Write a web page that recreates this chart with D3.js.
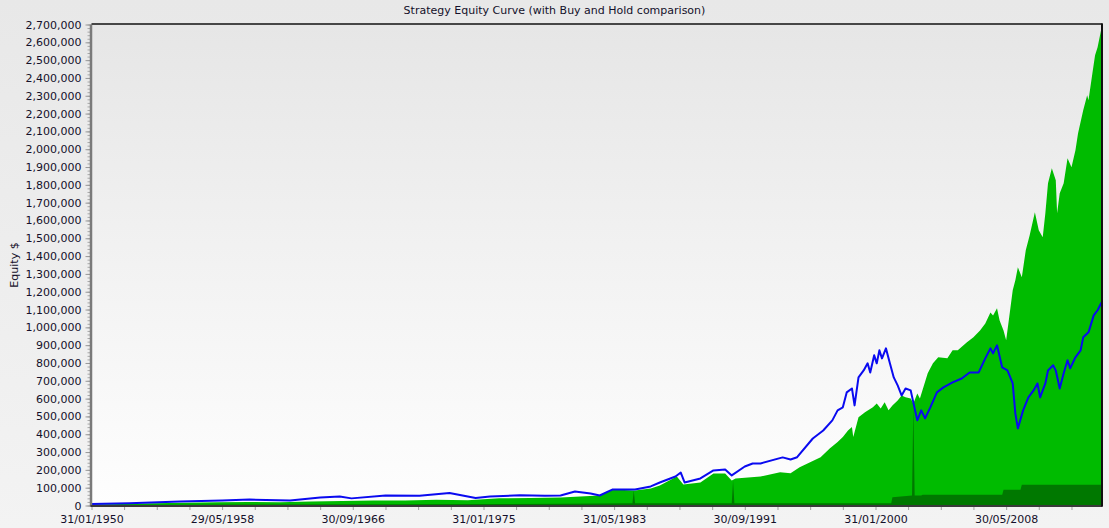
<!DOCTYPE html>
<html>
<head>
<meta charset="utf-8">
<script src="https://cdn.jsdelivr.net/npm/d3@7"></script>
<style>
  body { margin: 0; background: #ececec; }
  svg { display: block; font-family: "DejaVu Sans", sans-serif; }
</style>
</head>
<body>
<svg width="1109" height="528"></svg>
<script>
// Buy and hold (blue line), month -> equity $
const holdDates = ["1950-01","1952-06","1955-09","1958-05","1960-02","1962-09","1964-08","1965-11","1966-08","1968-10",
  "1970-12","1972-11","1974-07","1975-06","1977-05","1978-12","1979-12","1980-11","1981-11","1982-06",
  "1983-04","1984-09","1985-09","1986-04","1987-04","1987-08","1987-11","1988-11","1989-09","1990-06",
  "1990-11","1991-09","1992-03","1992-09","1994-02","1994-08","1995-01","1996-01","1996-09","1997-04",
  "1997-08","1997-12","1998-03","1998-07","1998-09","1998-12","1999-04","1999-07","1999-09","1999-12",
  "2000-02","2000-04","2000-06","2000-09","2000-12","2001-03","2001-06","2001-09","2001-12","2002-04",
  "2002-06","2002-09","2002-12","2003-03","2003-07","2003-12","2004-05","2004-12","2005-07","2006-01",
  "2006-08","2007-01","2007-05","2007-07","2007-10","2008-02","2008-06","2008-10","2008-12","2009-02",
  "2009-06","2009-10","2010-02","2010-05","2010-07","2010-11","2011-01","2011-05","2011-07","2011-10",
  "2012-01","2012-04","2012-06","2012-10","2013-02","2013-04","2013-08","2013-12","2014-03","2014-06"];
const holdValues = [8000,12000,22000,28000,33000,28000,45000,50000,40000,56000,
  55000,70000,42000,50000,58000,55000,56000,79000,67000,56000,
  90000,90000,107000,129000,163000,185000,129000,152000,197000,202000,
  169000,219000,236000,236000,270000,258000,271000,376000,421000,478000,
  534000,551000,635000,657000,562000,719000,758000,798000,747000,843000,
  798000,871000,826000,882000,798000,719000,674000,618000,657000,646000,
  579000,478000,534000,489000,551000,635000,663000,691000,713000,747000,
  747000,826000,882000,854000,899000,775000,758000,685000,517000,433000,
  534000,607000,646000,685000,607000,685000,758000,787000,758000,657000,
  742000,815000,770000,832000,871000,944000,972000,1067000,1096000,1140000];

// Strategy equity (light green area)
const strategyDates = ["1950-01","1952-01","1954-01","1956-01","1958-01","1960-01","1962-01","1964-01","1966-01","1968-01",
  "1970-01","1972-01","1974-01","1976-01","1978-01","1979-12","1982-06","1983-01","1983-04","1984-09",
  "1985-09","1986-04","1987-05","1987-10","1988-11","1989-09","1990-06","1990-11","1991-02","1992-09",
  "1993-12","1994-08","1995-03","1995-11","1996-07","1997-02","1997-08","1997-12","1998-04","1998-07",
  "1998-08","1998-12","1999-05","1999-11","2000-02","2000-05","2000-08","2000-11","2001-02","2001-06",
  "2001-09","2001-12","2002-04","2002-06","2002-09","2002-11","2003-05","2003-09","2004-01","2004-08",
  "2004-12","2005-04","2005-11","2006-04","2006-09","2007-01","2007-05","2007-07","2007-10","2007-12",
  "2008-03","2008-05","2008-07","2008-10","2008-12","2009-02","2009-05","2009-08","2009-11","2010-03",
  "2010-06","2010-09","2010-11","2011-01","2011-04","2011-07","2011-08","2011-10","2012-01","2012-04",
  "2012-07","2012-10","2012-12","2013-04","2013-07","2013-08","2013-11","2014-01","2014-03","2014-06"];
const strategyValues = [5000,8000,12000,15000,18000,20000,18000,22000,25000,28000,
  28000,32000,30000,40000,42000,45000,56000,80000,90000,84000,
  95000,112000,163000,118000,129000,180000,180000,140000,152000,163000,
  187000,181000,215000,243000,271000,320000,356000,384000,421000,440000,
  384000,496000,524000,552000,573000,545000,580000,534000,562000,590000,
  618000,608000,601000,573000,629000,601000,742000,798000,832000,826000,
  871000,871000,916000,944000,983000,1022000,1084000,1067000,1107000,1039000,
  983000,927000,1039000,1208000,1264000,1337000,1281000,1433000,1517000,1646000,
  1545000,1506000,1640000,1809000,1893000,1826000,1640000,1753000,1809000,1949000,
  1899000,1994000,2090000,2219000,2303000,2275000,2427000,2528000,2573000,2680000];

// Dark green area at the bottom
const cashDates = ["1950-01","1960-01","1970-01","1980-01","1984-07","1984-08","1984-09","1990-11","1990-12","1991-01",
  "2001-01","2001-02","2002-05","2002-06","2002-07","2002-12","2003-01","2008-02","2008-03","2009-04",
  "2009-05","2014-06"];
const cashValues = [3000,5000,7000,10000,12000,84000,12000,13000,140000,13000,
  13000,47000,56000,560000,56000,56000,60000,60000,88000,88000,
  116000,116000];

const xTickLabels = ["31/01/1950","29/05/1958","30/09/1966","31/01/1975","31/05/1983","30/09/1991","31/01/2000","30/05/2008"];
const yMax = 2700000;
const firstMonth = "1950-01", lastMonth = "2014-06";

const plot = { left: 91.5, right: 1101.5, top: 24.5, bottom: 505.5 };
const W = 1109, H = 528;

const parseMonth = d3.timeParse("%Y-%m");
const parseLabel = d3.timeParse("%d/%m/%Y");
// month string -> last day of that month
const monthEnd = s => d3.timeDay.offset(d3.timeMonth.offset(parseMonth(s), 1), -1);

const toSeries = (dates, values) => dates.map((d, i) => ({ date: monthEnd(d), value: values[i] }));
const hold = toSeries(holdDates, holdValues);
const strategy = toSeries(strategyDates, strategyValues);
const cash = toSeries(cashDates, cashValues);

const svg = d3.select("svg");
const defs = svg.append("defs");

const bgGrad = defs.append("linearGradient").attr("id", "bgGrad")
    .attr("x1", 0).attr("y1", 0).attr("x2", 0).attr("y2", 1);
bgGrad.append("stop").attr("offset", "0%").attr("stop-color", "#e8e8e8");
bgGrad.append("stop").attr("offset", "100%").attr("stop-color", "#f3f3f3");

const plotGrad = defs.append("linearGradient").attr("id", "plotGrad")
    .attr("x1", 0).attr("y1", 0).attr("x2", 0).attr("y2", 1);
plotGrad.append("stop").attr("offset", "0%").attr("stop-color", "#e6e6e6");
plotGrad.append("stop").attr("offset", "100%").attr("stop-color", "#fefefe");

defs.append("clipPath").attr("id", "plotClip")
    .append("rect")
    .attr("x", plot.left).attr("y", plot.top)
    .attr("width", plot.right - plot.left).attr("height", plot.bottom - plot.top);

svg.append("rect").attr("width", W).attr("height", H).attr("fill", "url(#bgGrad)");
svg.append("rect")
    .attr("x", plot.left).attr("y", plot.top)
    .attr("width", plot.right - plot.left).attr("height", plot.bottom - plot.top)
    .attr("fill", "url(#plotGrad)");

const x = d3.scaleTime()
    .domain([monthEnd(firstMonth), monthEnd(lastMonth)])
    .range([plot.left, plot.right]);
const y = d3.scaleLinear().domain([0, yMax]).range([plot.bottom, plot.top]);

const area = d3.area()
    .x(d => x(d.date))
    .y0(y(0))
    .y1(d => y(d.value));

const g = svg.append("g").attr("clip-path", "url(#plotClip)");

g.append("path").datum(strategy)
    .attr("fill", "#00bb00")
    .attr("d", area);

g.append("path").datum(cash)
    .attr("fill", "#007800")
    .attr("d", area);

g.append("path").datum(hold)
    .attr("fill", "none")
    .attr("stroke", "#0a0af0")
    .attr("stroke-width", 2)
    .attr("stroke-linejoin", "round")
    .attr("d", d3.line().x(d => x(d.date)).y(d => y(d.value)));

// Y axis: minor ticks every 20,000, labelled ticks every 100,000
svg.append("g")
    .attr("transform", `translate(${plot.left - 1},0)`)
    .call(d3.axisLeft(y).tickValues(d3.range(0, yMax + 1, 20000)).tickSize(3).tickFormat(""))
    .call(a => a.select(".domain").remove())
    .call(a => a.selectAll("line").attr("stroke", "#a8a8a8"));

svg.append("g")
    .attr("transform", `translate(${plot.left - 1},0)`)
    .call(d3.axisLeft(y).tickValues(d3.range(0, yMax + 1, 100000)).tickSize(5).tickPadding(4).tickFormat(d3.format(",")))
    .call(a => a.select(".domain").remove())
    .call(a => a.selectAll("line").attr("stroke", "#999"))
    .call(a => a.selectAll("text").attr("font-size", 11).attr("fill", "#14102a")
        .attr("font-family", "DejaVu Sans"));

// X axis: tick every 25 months, label every 100 months
const monthTicks = d3.range(0, 776, 25).map(i => d3.timeDay.offset(d3.timeMonth.offset(parseMonth(firstMonth), i + 1), -1));
svg.append("g")
    .attr("transform", `translate(0,${plot.bottom + 0.5})`)
    .call(d3.axisBottom(x).tickValues(monthTicks.filter(d => d <= x.domain()[1])).tickSize(4).tickFormat(""))
    .call(a => a.select(".domain").remove())
    .call(a => a.selectAll("line").attr("stroke", "#a0a0a0"));

svg.append("g")
    .attr("transform", `translate(0,${plot.bottom + 0.5})`)
    .call(d3.axisBottom(x).tickValues(xTickLabels.map(parseLabel)).tickSize(0).tickPadding(9)
        .tickFormat((d, i) => xTickLabels[i]))
    .call(a => a.select(".domain").remove())
    .call(a => a.selectAll("text").attr("font-size", 11).attr("fill", "#14102a")
        .attr("font-family", "DejaVu Sans"));

// Frame
svg.append("line")
    .attr("x1", plot.left - 0.5).attr("x2", plot.left - 0.5)
    .attr("y1", plot.top).attr("y2", plot.bottom + 1)
    .attr("stroke", "#7a7a7a").attr("stroke-width", 2.5);
svg.append("line")
    .attr("x1", plot.left - 1).attr("x2", plot.right + 1)
    .attr("y1", plot.bottom + 0.5).attr("y2", plot.bottom + 0.5)
    .attr("stroke", "#3a3a3a").attr("stroke-width", 2);
svg.append("line")
    .attr("x1", plot.left).attr("x2", plot.right + 1)
    .attr("y1", plot.top - 0.5).attr("y2", plot.top - 0.5)
    .attr("stroke", "#111").attr("stroke-width", 1.5);
svg.append("line")
    .attr("x1", plot.right + 0.5).attr("x2", plot.right + 0.5)
    .attr("y1", plot.top - 1).attr("y2", plot.bottom + 1)
    .attr("stroke", "#111").attr("stroke-width", 2);

// Titles
svg.append("text")
    .attr("x", W / 2).attr("y", 14)
    .attr("text-anchor", "middle")
    .attr("font-size", 11).attr("fill", "#14102a")
    .text("Strategy Equity Curve (with Buy and Hold comparison)");

svg.append("text")
    .attr("transform", `translate(18,${(plot.top + plot.bottom) / 2}) rotate(-90)`)
    .attr("text-anchor", "middle")
    .attr("font-size", 11).attr("fill", "#14102a")
    .text("Equity $");
</script>
</body>
</html>
